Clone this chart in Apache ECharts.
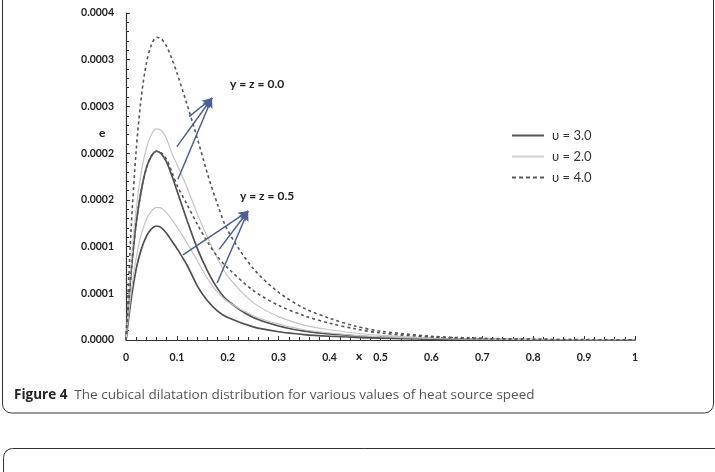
<!DOCTYPE html>
<html>
<head>
<meta charset="utf-8">
<script src="https://cdn.jsdelivr.net/npm/echarts@6/dist/echarts.min.js"></script>
<style>
html,body{margin:0;padding:0;background:#fff;}
#c{width:715px;height:472px;}
</style>
</head>
<body>
<div id="c"></div>
<script>
// x positions
var xValues = [0,0.01,0.02,0.03,0.04,0.05,0.06,0.07,0.08,0.09,0.1,0.12,0.14,0.16,0.18,0.2,0.25,0.3,0.35,0.4,0.45,0.5,0.6,0.7,0.8,0.9,1.0];
// y = z = 0.0
var v4_yz0 = [0,0.000118,0.000203,0.00026,0.000296,0.000316,0.000324,0.000322,0.000314,0.000301,0.000286,0.000252,0.000216,0.000178,0.000145,0.000117,0.0000765,0.000051,0.000034,0.0000232,0.000015,0.0000095,0.000004,0.0000018,0.0000008,0.0000004,0.0000002];
var v2_yz0 = [0,0.00008,0.00014,0.00018,0.000205,0.00022,0.000226,0.000224,0.000215,0.0002,0.000188,0.000163,0.000135,0.00011,0.000087,0.000068,0.00004,0.000025,0.000016,0.000011,0.0000075,0.000005,0.0000022,0.000001,0.0000005,0.0000002,0.0000001];
var v3_yz0 = [0,0.000072,0.000125,0.00016,0.000184,0.000197,0.000202,0.000199,0.00019,0.000176,0.00016,0.000128,0.000098,0.000074,0.000055,0.000042,0.000024,0.000015,0.0000095,0.0000065,0.0000045,0.000003,0.0000015,0.0000007,0.0000003,0.0000001,0.0000001];
// y = z = 0.5
var v4_yz05 = [0,0.000072,0.000125,0.00016,0.000184,0.000197,0.000202,0.0002,0.000193,0.00018,0.000166,0.000145,0.000124,0.000105,0.000089,0.000077,0.000053,0.000037,0.000026,0.000018,0.000012,0.0000075,0.0000032,0.0000014,0.0000006,0.0000003,0.0000001];
var v2_yz05 = [0,0.00005,0.000088,0.000113,0.000129,0.000138,0.000142,0.000141,0.000136,0.000129,0.000121,0.000104,0.000085,0.000066,0.000051,0.000041,0.000026,0.000017,0.000011,0.0000075,0.000005,0.0000035,0.0000016,0.0000008,0.0000004,0.0000002,0.0000001];
var v3_yz05 = [0,0.000043,0.000076,0.000097,0.000111,0.000119,0.000122,0.00012,0.000114,0.000106,0.000098,0.00008,0.000058,0.000042,0.000031,0.000024,0.000014,0.0000088,0.0000058,0.000004,0.0000028,0.000002,0.000001,0.0000005,0.0000002,0.0000001,0];

var xTickLabels = ['0','0.1','0.2','0.3','0.4','0.5','0.6','0.7','0.8','0.9','1'];
var yTickLabels = ['0.0000','0.0001','0.0001','0.0002','0.0002','0.0003','0.0003','0.0004'];
var legendNames = ['υ = 3.0','υ = 2.0','υ = 4.0'];

// annotation arrows: [start, tip] in data coordinates
var arrowsYZ0 = [
  [[0.124,0.000239],[0.169,0.000259]],
  [[0.100,0.000207],[0.169,0.000259]],
  [[0.102,0.000172],[0.169,0.000259]]
];
var arrowsYZ05 = [
  [[0.112,0.000091],[0.240,0.000138]],
  [[0.183,0.000097],[0.240,0.000138]],
  [[0.179,0.000061],[0.240,0.000138]]
];

function pairs(arr){ return xValues.map(function(x,i){ return [x, arr[i]]; }); }

var DARK = '#505050', LIGHT = '#c4c4c4', DASH = '#555555';
function lineSeries(name, arr, color, type, width){
  return {
    name: name, type: 'line', data: pairs(arr), smooth: 0.3, symbol: 'none',
    lineStyle: {color: color, width: width, type: type}, itemStyle: {color: color},
    z: 3
  };
}

var arrowData = arrowsYZ0.concat(arrowsYZ05).map(function(a){
  return [{coord: a[0]}, {coord: a[1]}];
});

var DASH_ICON = 'path://M0,0h4v1h-4z M7,0h4v1h-4z M14,0h4v1h-4z M21,0h4v1h-4z M28,0h4v1h-4z';

var chart = echarts.init(document.getElementById('c'), null, {renderer: 'canvas'});
var option = {
  animation: false,
  backgroundColor: '#fff',
  grid: {left: 126, right: 80, top: 13, bottom: 132, containLabel: false},
  legend: {
    data: [
      {name: legendNames[0], icon: 'rect', itemStyle: {color: '#555'}},
      {name: legendNames[1], icon: 'rect', itemStyle: {color: '#cfcfcf'}},
      {name: legendNames[2], icon: DASH_ICON, itemStyle: {color: '#555'}}
    ],
    orient: 'vertical', left: 507, top: 124,
    itemWidth: 32, itemHeight: 2, itemGap: 8, symbolKeepAspect: false,
    textStyle: {fontFamily: 'Lato', fontSize: 13, color: '#333', padding: [0,0,0,3]}
  },
  xAxis: {
    type: 'value', min: 0, max: 1, interval: 0.1,
    axisLine: {lineStyle: {color: '#333', width: 1.2}},
    axisTick: {inside: true, length: 4, lineStyle: {color: '#333'}},
    minorTick: {show: true, splitNumber: 5, length: 3, lineStyle: {color: '#333'}},
    splitLine: {show: false},
    axisLabel: {margin: 12, fontFamily: 'Lato', fontWeight: 'bold', fontSize: 10.5, color: '#222',
      formatter: function(v){ return xTickLabels[Math.round(v*10)]; }}
  },
  yAxis: {
    type: 'value', min: 0, max: 0.00035, interval: 0.00005,
    axisLine: {show: true, lineStyle: {color: '#333', width: 1.2}},
    axisTick: {show: true, inside: true, length: 4, lineStyle: {color: '#333'}},
    minorTick: {show: true, splitNumber: 5, length: 3, lineStyle: {color: '#333'}},
    splitLine: {show: false},
    axisLabel: {margin: 12, fontFamily: 'Lato', fontWeight: 'bold', fontSize: 10.5, color: '#222',
      formatter: function(v){ return yTickLabels[Math.round(v/0.00005)]; }}
  },
  series: [
    lineSeries(legendNames[0], v3_yz0, DARK, 'solid', 1.7),
    lineSeries(legendNames[1], v2_yz0, LIGHT, 'solid', 1.2),
    lineSeries(legendNames[2], v4_yz0, DASH, [3,3], 1.6),
    lineSeries(legendNames[0], v3_yz05, DARK, 'solid', 1.7),
    lineSeries(legendNames[1], v2_yz05, LIGHT, 'solid', 1.2),
    lineSeries(legendNames[2], v4_yz05, DASH, [3,3], 1.6),
    {
      name: 'arrows', type: 'line', data: [], symbol: 'none', z: 5,
      markLine: {
        silent: true, symbol: ['none','arrow'], symbolSize: [7,10],
        lineStyle: {color: '#4a6090', width: 1.5, type: 'solid'},
        label: {show: false},
        data: arrowData
      }
    }
  ],
  graphic: [
    {type: 'rect', shape: {x: 2.5, y: -12, width: 711, height: 425, r: 9},
      style: {fill: 'none', stroke: '#333', lineWidth: 1}, silent: true, z: -10},
    {type: 'rect', shape: {x: 3.5, y: 448.5, width: 730, height: 60, r: 9},
      style: {fill: 'none', stroke: '#333', lineWidth: 1}, silent: true, z: -10},
    {type: 'text', left: 99, top: 127, style: {text: 'e', font: 'bold 12px Lato', fill: '#222'}},
    {type: 'text', left: 356, top: 350, style: {text: 'x', font: 'bold 12px Lato', fill: '#222'}},
    {type: 'text', left: 230, top: 78, style: {text: 'y = z = 0.0', font: 'bold 12px Lato', fill: '#222'}},
    {type: 'text', left: 240, top: 190, style: {text: 'y = z = 0.5', font: 'bold 12px Lato', fill: '#222'}},
    {type: 'text', left: 14, top: 388, style: {rich: {
      b: {font: 'bold 13.5px "Open Sans"', fill: '#222'},
      n: {font: '13.5px "Open Sans"', fill: '#555'}
    }, text: '{b|Figure 4}{n|  The cubical dilatation distribution for various values of heat source speed}'}}
  ]
};
chart.setOption(option);
</script>
</body>
</html>
